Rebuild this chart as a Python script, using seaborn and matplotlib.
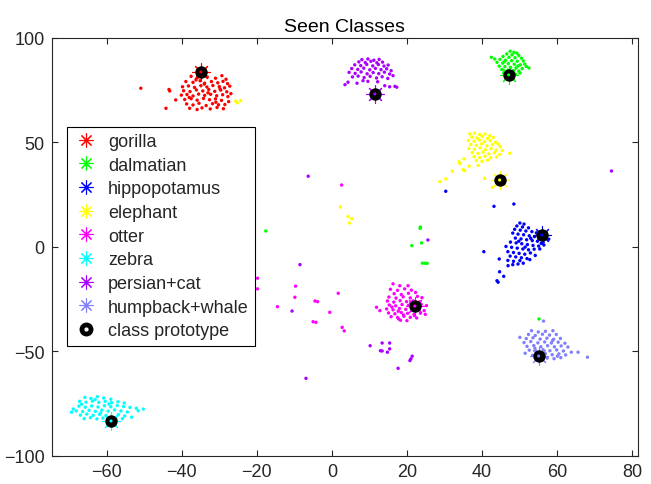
import numpy as np
import pandas as pd
import matplotlib
matplotlib.use("Agg")
import matplotlib.pyplot as plt
import seaborn as sns
from matplotlib.lines import Line2D
from matplotlib.legend_handler import HandlerTuple

# ---------------- data ----------------
classes = ["gorilla", "dalmatian", "hippopotamus", "elephant", "otter",
           "zebra", "persian+cat", "humpback+whale"]
colors = ["#FF0000", "#00FF00", "#0000FF", "#FFFF00", "#FF00FF",
          "#00FFFF", "#AA00FF", "#8080FF"]

gorilla_x = [-37.5, -35.8, -33.2, -31.0, -29.3, -28.2, -38.9, -37.0, -35.1, -33.9, -32.1, -30.4, -29.0, -27.8,
             -39.8, -38.2, -36.6, -34.9, -33.3, -31.7, -30.0, -28.6, -27.2, -39.5, -37.8, -36.1, -34.4, -32.8,
             -31.2, -29.6, -28.0, -26.9, -40.1, -38.6, -37.0, -35.5, -33.9, -32.3, -30.7, -29.1, -27.7, -39.2,
             -37.5, -35.9, -34.2, -32.6, -31.0, -29.4, -27.5, -38.7, -37.0, -35.4, -33.5, -31.8, -30.2, -28.5,
             -37.9, -35.9, -34.6, -32.4, -30.6, -28.9, -36.2, -33.0, -30.9, -38.0, -34.0, -29.8,
             -50.9, -43.4, -43.2, -41.6, -44.2]
gorilla_y = [81.5, 80.9, 81.2, 80.6, 81.8, 80.1, 79.0, 78.6, 79.4, 78.2, 79.0, 78.4, 79.1, 78.0,
             76.5, 76.9, 76.2, 77.0, 76.4, 77.1, 76.6, 76.0, 76.8, 74.6, 74.2, 75.0, 74.5, 75.2,
             74.3, 74.9, 74.1, 73.2, 72.5, 72.8, 72.1, 73.0, 72.4, 72.9, 72.2, 72.7, 71.8, 70.4,
             70.8, 70.1, 70.9, 70.3, 70.7, 70.0, 69.4, 68.3, 67.8, 68.6, 67.5, 68.4, 67.9, 68.0,
             66.2, 65.6, 66.4, 65.9, 66.6, 66.0, 79.8, 73.6, 69.1, 71.4, 77.8, 75.5,
             75.8, 75.2, 74.5, 70.2, 66.2]

dalmatian_x = [47.5, 48.5, 49.3, 46.6, 48.0, 49.8, 45.6, 47.2, 48.8, 50.5, 42.5, 43.4, 44.8, 46.3, 47.9,
               49.4, 51.0, 44.0, 45.5, 47.0, 48.6, 50.2, 51.4, 44.6, 46.1, 47.6, 49.1, 50.7, 52.5, 45.3,
               46.9, 48.3, 49.8, 45.8, 47.3, 48.9, 50.1, 46.4, 48.1, 46.0, 49.6, 51.8,
               -17.6, 23.5, 23.6, 23.9, 21.3, 24.15, 24.8, 25.4, 55.2]
dalmatian_y = [93.5, 93.0, 92.6, 92.2, 91.8, 91.5, 91.0, 90.6, 90.4, 90.2, 90.6, 89.8, 89.6, 89.2, 89.0,
               88.7, 88.9, 88.2, 87.8, 87.6, 87.3, 87.0, 87.4, 86.4, 86.1, 85.8, 85.6, 85.2, 85.5, 84.8,
               84.4, 84.2, 84.0, 83.2, 82.9, 82.6, 83.1, 81.9, 81.6, 88.6, 86.5, 86.2,
               7.5, 8.8, 9.4, 1.8, 0.5, -7.9, -7.9, -8.0, -34.6]

hippo_x = [50.1, 51.2, 49.3, 50.8, 52.4, 48.7, 50.2, 51.7, 53.3, 54.5, 48.2, 49.6, 51.1, 52.6, 54.0, 55.4,
           57.0, 48.9, 50.4, 51.9, 53.4, 54.8, 56.3, 47.6, 49.1, 50.6, 52.1, 53.6, 55.1, 56.5, 46.4, 47.9,
           49.4, 50.9, 52.4, 53.9, 55.4, 46.9, 48.4, 49.9, 51.4, 52.9, 47.5, 49.0, 50.5, 52.0, 52.75, 46.9,
           48.4, 50.1, 46.95, 48.2, 49.6, 51.0, 57.8, 57.2, 53.0, 55.8, 51.5, 49.8, 54.2,
           43.2, 48.5, 40.5, 44.6, 44.7, 45.8, 44.3, 44.0, 30.35]
hippo_y = [11.3, 10.8, 9.9, 9.4, 9.0, 8.3, 7.9, 7.5, 7.2, 6.6, 6.5, 6.0, 5.7, 5.2, 4.8, 4.4,
           4.9, 4.1, 3.7, 3.3, 2.9, 2.6, 2.1, 2.2, 1.8, 1.4, 1.0, 0.6, 0.3, 0.8, 0.1, -0.3,
           -0.7, -1.1, -1.5, -1.2, -1.1, -2.4, -2.8, -3.2, -3.6, -3.0, -4.5, -4.9, -5.3, -5.7, -6.2, -6.6,
           -7.0, -6.7, -9.1, -8.6, -8.3, -7.9, 3.6, 6.2, 4.0, 1.6, -0.2, 2.6, -4.2,
           19.3, 20.4, -2.4, -5.9, -12.0, -14.2, -17.0, -16.3, 26.5]

elephant_x = [36.8, 38.0, 39.4, 40.8, 42.1, 37.3, 38.7, 40.1, 41.5, 43.0, 36.4, 37.9, 39.3, 40.7, 42.2,
              43.6, 44.3, 37.0, 38.5, 39.9, 41.3, 42.8, 44.9, 36.5, 38.0, 39.5, 40.9, 42.4, 43.8, 45.4,
              47.4, 37.4, 38.9, 40.3, 41.8, 43.3, 44.7, 37.9, 39.4, 40.8, 42.3, 43.9, 38.5, 40.0, 41.5,
              35.2, 33.9, 34.1, 34.96, 35.4, 32.1, 30.35, 28.8, 40.7, 42.8, 39.0, 36.6,
              2.3, 4.3, 5.3, 4.7, -25.6, -25.2, -24.3]
elephant_y = [53.9, 54.3, 53.6, 53.9, 53.1, 52.4, 52.0, 52.6, 51.8, 52.2, 50.8, 50.4, 51.0, 50.2, 50.7,
              50.0, 49.1, 48.9, 48.5, 49.2, 48.3, 48.8, 47.9, 47.0, 46.6, 47.3, 46.4, 46.9, 46.2, 46.0,
              44.7, 45.0, 44.6, 45.2, 44.4, 44.9, 44.1, 43.0, 42.6, 43.3, 42.5, 42.9, 41.2, 40.8, 41.4,
              42.0, 40.7, 39.7, 36.8, 36.4, 36.1, 32.4, 31.1, 32.7, 28.4, 38.9, 38.5,
              19.0, 14.4, 13.4, 11.3, 69.6, 68.8, 69.9]

otter_x = [16.3, 18.1, 20.3, 15.6, 17.5, 19.4, 21.2, 16.6, 18.5, 20.4, 22.3, 15.2, 17.1, 19.0, 20.9, 22.8,
           24.0, 14.8, 16.5, 18.2, 19.9, 21.6, 23.4, 25.2, 15.3, 17.0, 18.7, 20.4, 23.8, 14.6, 16.3, 18.0,
           19.7, 21.4, 23.1, 24.6, 15.1, 16.8, 18.5, 20.2, 21.9, 23.6, 15.8, 17.5, 19.2, 20.9, 22.6, 18.3,
           20.0, 11.9, 12.8, 17.8, 22.0, 16.0, 19.1, 21.0, 17.7, 24.9,
           2.6, -19.8, -19.8, -9.67, -9.85, -14.5, -4.5, -3.8, -0.55, 1.7, -5.0, -4.25, 2.75, 3.3]
otter_y = [-17.8, -18.7, -18.7, -20.4, -20.9, -20.2, -20.8, -22.5, -22.9, -22.3, -21.9, -24.1, -24.6, -24.0,
           -24.5, -23.8, -24.4, -26.0, -26.5, -25.8, -26.3, -25.9, -26.4, -28.2, -27.9, -28.3, -27.7, -28.1,
           -27.6, -29.8, -30.2, -29.6, -30.0, -30.4, -29.9, -30.6, -31.7, -32.1, -31.5, -31.9, -32.3, -31.8,
           -33.5, -33.9, -33.3, -33.8, -34.1, -35.2, -35.4, -29.0, -30.6, -34.6, -33.0, -28.9, -32.7, -27.0,
           -30.9, -32.4,
           29.5, -15.1, -20.2, -18.9, -24.2, -28.7, -26.0, -26.3, -31.4, -22.3, -35.9, -36.2, -38.6, -40.3]

zebra_x = [-65.8, -64.2, -62.5, -60.8, -58.9, -67.2, -65.5, -63.8, -62.1, -60.4, -58.7, -57.0, -55.3, -68.9,
           -67.4, -65.7, -64.0, -62.3, -60.6, -58.9, -57.2, -55.5, -53.8, -52.1, -50.25, -51.6, -68.1, -66.4,
           -64.7, -63.0, -61.3, -59.6, -57.9, -56.2, -54.5, -67.0, -65.3, -63.6, -61.9, -60.2, -56.9, -55.2,
           -53.35, -66.0, -64.3, -62.6, -61.0, -57.5, -55.8, -69.4, -63.1, -59.4, -66.7, -61.6]
zebra_y = [-72.1, -72.6, -71.8, -72.4, -73.0, -74.0, -74.4, -73.9, -74.5, -74.0, -74.6, -74.2, -74.8, -77.7,
           -76.3, -76.8, -76.2, -76.7, -76.1, -76.6, -76.0, -76.5, -76.9, -77.3, -77.7, -78.5, -78.6, -78.9,
           -78.3, -78.8, -78.2, -78.7, -78.1, -78.6, -79.1, -80.6, -80.1, -80.7, -80.2, -80.8, -80.4, -81.0,
           -81.6, -82.3, -81.8, -82.4, -82.0, -82.6, -82.3, -79.2, -73.2, -75.3, -75.4, -79.6]

persian_x = [8.0, 9.6, 11.2, 12.6, 7.2, 8.9, 10.4, 12.0, 13.5, 6.1, 7.7, 9.3, 10.9, 12.4, 13.9, 15.0,
             5.3, 6.9, 8.5, 10.1, 11.6, 13.1, 14.6, 15.8, 4.6, 6.2, 7.8, 9.4, 11.0, 12.5, 14.0, 15.4,
             16.3, 5.5, 7.0, 8.6, 10.2, 11.9, 13.4, 14.9, 3.5, 4.3, 6.7, 8.3, 9.6, 12.2, 14.1, 15.4,
             16.8, 17.3,
             -6.3, -8.5, -10.6, -6.9, 10.2, 13.4, 15.4, 12.95, 13.4, 14.8, 15.4, 21.4, 21.05, 20.8,
             17.65, 25.6, 74.5]
persian_y = [89.5, 89.8, 89.2, 89.6, 88.4, 88.1, 88.7, 88.0, 88.3, 87.0, 86.6, 87.2, 86.5, 87.1, 86.4, 86.9,
             85.2, 84.8, 85.4, 84.6, 85.3, 84.7, 85.1, 84.2, 83.4, 82.9, 83.6, 82.7, 83.3, 82.8, 83.5, 82.6,
             81.8, 81.2, 81.6, 80.9, 81.5, 80.7, 81.3, 80.5, 77.5, 78.7, 78.2, 79.4, 79.1, 78.9, 77.0, 76.5,
             76.7, 76.3,
             33.7, -8.6, -30.8, -63.0, -47.4, -46.1, -46.1, -49.8, -49.9, -50.5, -48.9, -52.4, -53.7, -54.5,
             -58.2, 3.2, 36.2]

humpback_x = [53.2, 55.0, 56.9, 58.9, 52.4, 54.2, 56.1, 58.0, 59.8, 50.1, 51.8, 53.6, 55.5, 57.3, 59.1,
              60.9, 51.2, 53.0, 54.9, 56.7, 58.5, 60.3, 62.1, 52.0, 53.8, 55.7, 57.5, 59.3, 61.1, 62.9,
              52.6, 54.4, 56.3, 58.1, 59.9, 61.7, 63.8, 65.6, 68.1, 55.0, 56.9, 58.7, 60.5, 62.3, 57.4,
              59.2, 61.0, 53.5, 51.5, 56.4, 54.1, 58.8, 60.1]
humpback_y = [-40.2, -40.8, -40.5, -40.2, -42.0, -42.5, -41.9, -42.3, -42.0, -43.4, -44.0, -43.6, -44.2, -43.8,
              -44.3, -43.9, -45.9, -45.4, -46.0, -45.6, -46.1, -45.7, -46.2, -47.7, -47.3, -47.9, -47.4, -47.9,
              -47.5, -48.0, -49.5, -49.9, -49.3, -49.8, -49.4, -49.9, -50.5, -50.5, -52.9, -51.6, -51.2, -51.7,
              -51.3, -51.8, -53.3, -53.6, -53.1, -52.0, -51.0, -35.6, -48.6, -44.9, -52.4]

proto_x = [-34.9, 47.1, 55.9, 44.7, 22.1, -58.85, 11.45, 55.1]
proto_y = [83.6, 82.2, 5.6, 31.9, -28.4, -83.4, 73.1, -52.3]

# ---------------- build table ----------------
xs = [gorilla_x, dalmatian_x, hippo_x, elephant_x, otter_x, zebra_x, persian_x, humpback_x]
ys = [gorilla_y, dalmatian_y, hippo_y, elephant_y, otter_y, zebra_y, persian_y, humpback_y]
frames = []
for c, x, y in zip(classes, xs, ys):
    frames.append(pd.DataFrame({"x": x, "y": y, "cls": c}))
df = pd.concat(frames, ignore_index=True)
palette = dict(zip(classes, colors))
proto_df = pd.DataFrame({"x": proto_x, "y": proto_y, "cls": classes})

# ---------------- plot ----------------
sns.set_theme(style="white")
plt.rcParams["font.family"] = ["Liberation Sans", "DejaVu Sans"]

fig = plt.figure(figsize=(6.51, 4.85), dpi=100)
ax = fig.add_axes([0.0794, 0.0584, 0.9002, 0.8619])

sns.scatterplot(data=df, x="x", y="y", hue="cls", palette=palette, s=6,
                linewidth=0, marker="o", legend=False, ax=ax, zorder=2)

ast = (8, 2, 0)
for c, col in zip(classes, colors):
    sub = proto_df[proto_df["cls"] == c]
    ax.plot(sub["x"], sub["y"], linestyle="none", marker=ast, markersize=13,
            markeredgecolor=col, markeredgewidth=0.8, zorder=3)
sns.scatterplot(data=proto_df, x="x", y="y", color="black", s=80, linewidth=0,
                legend=False, ax=ax, zorder=4)
sns.scatterplot(data=proto_df, x="x", y="y", hue="cls", palette=palette, s=5,
                linewidth=0, legend=False, ax=ax, zorder=5)

ax.set_xlim(-74.65, 81.5)
ax.set_ylim(-100, 100)
ax.set_xticks(np.arange(-60, 81, 20))
ax.set_yticks(np.arange(-100, 101, 50))
ax.set_xlabel("")
ax.set_ylabel("")
ax.set_title("Seen Classes", fontsize=14, color="black", pad=5)

axcol = "#262626"
for sp in ax.spines.values():
    sp.set_visible(True)
    sp.set_color(axcol)
    sp.set_linewidth(0.8)
ax.tick_params(direction="in", length=4.5, width=0.8, colors=axcol,
               labelsize=13, top=True, right=True, bottom=True, left=True,
               labelcolor=axcol, pad=5)

handles = []
for c, col in zip(classes, colors):
    handles.append(Line2D([], [], linestyle="none", marker=ast, markersize=10,
                          markeredgecolor=col, markeredgewidth=0.8))
proto_h = (Line2D([], [], linestyle="none", marker="o", markersize=9,
                  markerfacecolor="black", markeredgecolor="black"),
           Line2D([], [], linestyle="none", marker="o", markersize=2,
                  markerfacecolor="white", markeredgecolor="white"))
handles.append(proto_h)
labels = classes + ["class prototype"]
leg = ax.legend(handles, labels, loc="upper left", bbox_to_anchor=(0.0266, 0.787),
                borderaxespad=0, fontsize=13, frameon=True, fancybox=False,
                edgecolor="black", framealpha=1, labelspacing=0.37,
                handlelength=1.4, handletextpad=0.5, borderpad=0.35,
                handler_map={tuple: HandlerTuple(ndivide=1, pad=0)})
leg.get_frame().set_linewidth(0.8)
leg.set_zorder(10)

fig.savefig("out.png", dpi=100)
